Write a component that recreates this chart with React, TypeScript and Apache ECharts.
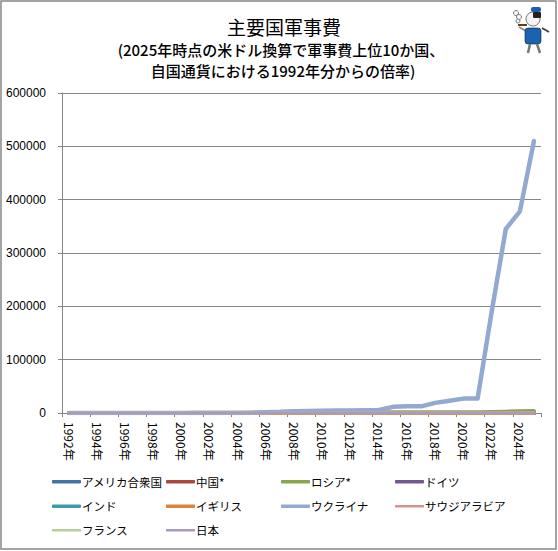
import React, { useEffect, useRef } from "react";
import * as echarts from "echarts";

const years = ["1992年","1993年","1994年","1995年","1996年","1997年","1998年","1999年","2000年","2001年","2002年","2003年","2004年","2005年","2006年","2007年","2008年","2009年","2010年","2011年","2012年","2013年","2014年","2015年","2016年","2017年","2018年","2019年","2020年","2021年","2022年","2023年","2024年","2025年"];
const usa = [1,0.96,0.92,0.9,0.89,0.9,0.89,0.92,0.96,0.98,1.1,1.25,1.4,1.5,1.57,1.65,1.83,1.94,2.04,2.08,1.98,1.84,1.75,1.73,1.76,1.75,1.87,2,2.13,2.2,2.26,2.35,2.55,2.64];
const china = [1,1.2,1.5,1.8,2.1,2.3,2.7,3.1,3.6,4.4,5.1,5.7,6.6,7.6,9.2,11,13,15,16.5,19,21,23.5,26,28,30,32,34.5,37,39,41,44,47,50,52];
const russia = [1,8,40,70,110,130,100,170,220,280,350,420,500,600,750,900,1000,1050,1100,1150,1200,1250,1300,1350,1400,1300,1250,1300,1350,1400,1900,2500,3200,3600];
const germany = [1,0.95,0.9,0.9,0.9,0.88,0.88,0.9,0.9,0.9,0.92,0.92,0.9,0.9,0.9,0.92,0.97,1,1.03,1.03,1.05,1.04,1.05,1.08,1.13,1.2,1.25,1.35,1.45,1.5,1.55,1.7,2.3,2.6];
const india = [1,1.2,1.3,1.5,1.7,2,2.2,2.8,3,3.2,3.3,3.5,4.1,4.6,4.9,5.3,6.1,7.6,8.5,9.3,10.2,11.1,12.4,13,14.8,16.4,17.4,19.2,20.2,21.1,22.6,23.9,25.7,27.5];
const uk = [1,0.98,0.96,0.93,0.93,0.93,0.96,0.98,1.02,1.08,1.16,1.22,1.28,1.34,1.38,1.45,1.54,1.6,1.6,1.6,1.56,1.54,1.53,1.53,1.55,1.58,1.62,1.7,1.85,1.95,2,2.1,2.3,2.4];
const ukraine = [1,1,2,4,8,10,10,12,16,20,25,35,80,700,1500,2200,3500,3700,4200,4500,4700,5000,5500,11500,12500,12500,19000,23000,27000,27000,190000,345000,378000,510000];
const saudi = [1,0.8,0.7,0.7,0.75,0.95,1,0.9,1.02,1.2,0.95,1,1.1,1.25,1.45,1.65,1.75,1.85,2,2.1,2.45,2.95,3.3,3.7,2.75,3.15,3.2,2.9,2.7,2.6,2.9,3.2,3.35,3.4];
const france = [1,1,1.02,1,1,1,0.98,1,1.02,1.04,1.08,1.14,1.2,1.2,1.22,1.24,1.24,1.32,1.26,1.28,1.28,1.28,1.3,1.3,1.33,1.37,1.38,1.42,1.48,1.55,1.6,1.7,1.8,1.9];
const japan = [1,1.02,1.03,1.04,1.06,1.06,1.06,1.05,1.05,1.06,1.06,1.06,1.05,1.05,1.03,1.02,1.01,1.02,1.02,1.03,1.02,1.02,1.03,1.05,1.05,1.06,1.07,1.08,1.1,1.15,1.17,1.3,1.6,1.8];

const seriesNames = ["アメリカ合衆国","中国*","ロシア*","ドイツ","インド","イギリス","ウクライナ","サウジアラビア","フランス","日本"];
const seriesValues = [usa,china,russia,germany,india,uk,ukraine,saudi,france,japan];
const seriesColors = ["#4572a7","#aa4643","#89a54e","#71588f","#4198af","#db843d","#93a9cf","#d19392","#b9cd96","#a99bbd"];
const seriesWidths = [4,4,4,4,4,4,4.5,3,3,3];
const legendColumns = [52,166,281,395];
const legendRows = [476,500.5,524.5];
const yTicks = { min: 0, max: 600000, interval: 100000 };

const TEXT_FONT = '"Noto Sans CJK JP", sans-serif';
const AXIS = "#868686";

export default function App() {
  const ref = useRef<HTMLDivElement>(null);
  useEffect(() => {
    const chart = echarts.init(ref.current!, undefined, { renderer: "svg" });
    chart.setOption({
      animation: false,
      backgroundColor: "#ffffff",
      title: [
        { text: "主要国軍事費", left: 279, top: 12, textAlign: "center",
          textStyle: { fontFamily: TEXT_FONT, fontSize: 19, fontWeight: "normal", color: "#000" } },
        { text: "(2025年時点の米ドル換算で軍事費上位10か国、", left: 276, top: 37, textAlign: "center",
          textStyle: { fontFamily: TEXT_FONT, fontSize: 15, fontWeight: 500, color: "#000" } },
        { text: "自国通貨における1992年分からの倍率)", left: 278, top: 58, textAlign: "center",
          textStyle: { fontFamily: TEXT_FONT, fontSize: 15, fontWeight: 500, color: "#000" } },
      ],
      grid: { left: 62, right: 17, top: 93, bottom: 138, containLabel: false },
      legend: seriesNames.map((name, i) => ({
        data: [name],
        left: legendColumns[i % 4],
        top: legendRows[Math.floor(i / 4)],
        padding: 0,
        itemWidth: 29,
        itemHeight: seriesWidths[i] > 3 ? 3.5 : 2.5,
        icon: "roundRect",
        selectedMode: false,
        textStyle: { fontFamily: TEXT_FONT, fontSize: 11.5, color: "#000", padding: [0, 0, 0, -4] },
      })),
      xAxis: {
        type: "category",
        data: years,
        boundaryGap: true,
        axisLine: { lineStyle: { color: AXIS, width: 1 } },
        axisTick: { show: true, interval: 1, length: 4, lineStyle: { color: AXIS } },
        axisLabel: { interval: 1, rotate: -90, margin: 9, fontFamily: TEXT_FONT, fontSize: 12, color: "#000" },
      },
      yAxis: {
        type: "value",
        min: yTicks.min,
        max: yTicks.max,
        interval: yTicks.interval,
        axisLine: { show: true, lineStyle: { color: AXIS, width: 1 } },
        axisTick: { show: true, length: 4, lineStyle: { color: AXIS } },
        axisLabel: { margin: 16, formatter: (v: number) => String(v), fontFamily: '"Liberation Sans", sans-serif', fontSize: 12, color: "#000" },
        splitLine: { lineStyle: { color: AXIS, width: 1 } },
      },
      series: seriesNames.map((name, i) => ({
        name,
        type: "line",
        data: seriesValues[i],
        symbol: "none",
        color: seriesColors[i],
        lineStyle: { color: seriesColors[i], width: seriesWidths[i], cap: "round", join: "round" },
      })),
      graphic: [
        { type: "rect", shape: { x: 1, y: 1, width: 555, height: 548 },
          style: { fill: "none", stroke: AXIS, lineWidth: 1.5 }, silent: true, z: 100 },
        { type: "group", silent: true, children: [
          { type: "circle", shape: { cx: 516, cy: 13, r: 2.5 }, style: { fill: "#fff", stroke: "#777", lineWidth: 1 } },
          { type: "circle", shape: { cx: 519, cy: 17, r: 2.5 }, style: { fill: "#fff", stroke: "#777", lineWidth: 1 } },
          { type: "circle", shape: { cx: 518, cy: 21, r: 2 }, style: { fill: "#fff", stroke: "#777", lineWidth: 1 } },
          { type: "line", shape: { x1: 518, y1: 25, x2: 527, y2: 25 }, style: { stroke: "#6b3a1e", lineWidth: 2 } },
          { type: "line", shape: { x1: 526, y1: 31, x2: 519, y2: 27 }, style: { stroke: "#888", lineWidth: 2 } },
          { type: "line", shape: { x1: 542, y1: 28, x2: 549, y2: 32 }, style: { stroke: "#444", lineWidth: 2 } },
          { type: "circle", shape: { cx: 533, cy: 19, r: 7 }, style: { fill: "#f4f4f4", stroke: "#555", lineWidth: 0.8 } },
          { type: "rect", shape: { x: 533, y: 12, width: 8, height: 6, r: 1 }, style: { fill: "#222" } },
          { type: "rect", shape: { x: 531, y: 7, width: 10, height: 5, r: 2 }, style: { fill: "#1f5fa8" } },
          { type: "rect", shape: { x: 525, y: 28, width: 16, height: 16, r: 3 }, style: { fill: "#1b62b0", stroke: "#123", lineWidth: 0.6 } },
          { type: "line", shape: { x1: 530, y1: 44, x2: 528, y2: 53 }, style: { stroke: "#777", lineWidth: 2.5 } },
          { type: "line", shape: { x1: 537, y1: 44, x2: 540, y2: 53 }, style: { stroke: "#777", lineWidth: 2.5 } },
        ] },
      ],
    });
    return () => chart.dispose();
  }, []);
  return <div ref={ref} style={{ position: "fixed", left: 0, top: 0, width: 558, height: 551 }} />;
}
